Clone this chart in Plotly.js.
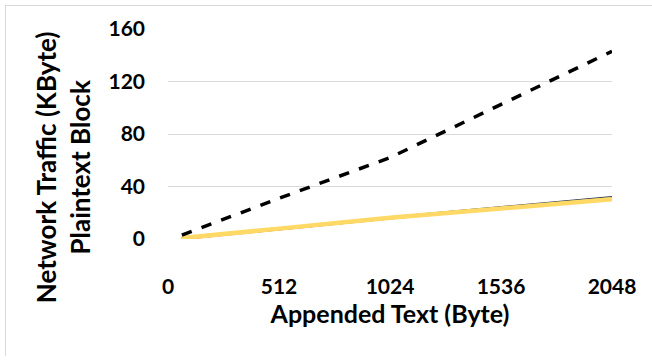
<!DOCTYPE html>
<html>
<head>
<meta charset="utf-8">
<script src="https://cdn.plot.ly/plotly-3.0.1.min.js"></script>
<style>
html,body{margin:0;padding:0;background:#fff;}
#wrap{position:relative;width:652px;height:364px;}
#frame{position:absolute;left:5px;top:5px;width:660px;height:350px;border-top:1px solid #d9d9d9;border-left:1px solid #d9d9d9;pointer-events:none;}
#chart{position:absolute;left:0;top:0;width:652px;height:364px;}
</style>
</head>
<body>
<div id="wrap"><div id="chart"></div><div id="frame"></div></div>
<script>
// Appended text sizes (Byte)
const textSizes = [64, 128, 256, 512, 1024, 2048];
// Network traffic (KByte)
const seriesDashed = [3, 7, 15, 31, 62, 143];
const seriesNavy   = [0.9, 2.0, 4.0, 8.1, 16.4, 31.9];
const seriesRed    = [0.1, 1.2, 3.3, 7.5, 15.8, 30.8];
const seriesGreen  = [0.5, 1.6, 3.6, 7.7, 16.0, 31.0];
const seriesYellow = [0.7, 1.8, 3.8, 7.9, 16.2, 30.2];
const xTicks = [0, 512, 1024, 1536, 2048];
const yTicks = [0, 40, 80, 120, 160];
const xTitle = "Appended Text (Byte)";
const yTitle = "Network Traffic (KByte)<br>Plaintext Block";

const FONT = "Lato, 'Open Sans', sans-serif";
const traces = [
  {x: textSizes, y: seriesNavy, mode: 'lines', line: {color: '#2F3A5A', width: 2.5}},
  {x: textSizes, y: seriesRed, mode: 'lines', line: {color: '#E8202A', width: 2.5}},
  {x: textSizes, y: seriesGreen, mode: 'lines', line: {color: '#8FAF6A', width: 2.5}},
  {x: textSizes, y: seriesYellow, mode: 'lines', line: {color: '#FFD966', width: 4.5}},
  {x: textSizes, y: seriesDashed, mode: 'lines', line: {color: '#000000', width: 3.5, dash: 'dash'}}
];

const layout = {
  width: 652, height: 364,
  margin: {l: 168, r: 40, t: 29, b: 125},
  paper_bgcolor: '#ffffff', plot_bgcolor: '#ffffff',
  showlegend: false,
  font: {family: FONT, color: '#000000', size: 20, weight: 'bold'},
  xaxis: {
    range: [0, 2048], tickvals: xTicks, ticktext: xTicks.map(String),
    showgrid: false, zeroline: false, showline: false, ticks: '',
    ticklabelstandoff: 33,
    tickfont: {family: FONT, size: 21, weight: 'bold', color: '#000'},
    title: {text: xTitle, font: {family: FONT, size: 25, weight: 'bold', color: '#000'}, standoff: 6}
  },
  yaxis: {
    range: [0, 160], tickvals: yTicks, ticktext: yTicks.map(String),
    showgrid: true, gridcolor: '#d9d9d9', gridwidth: 1,
    zeroline: false, showline: false, ticks: '',
    ticklabelstandoff: 22,
    tickfont: {family: FONT, size: 21, weight: 'bold', color: '#000'}
  },
  annotations: [{
    text: yTitle, textangle: -90, showarrow: false,
    xref: 'paper', yref: 'paper', x: -0.236, y: 0.343,
    xanchor: 'center', yanchor: 'middle', align: 'center',
    font: {family: FONT, size: 26, weight: 'bold', color: '#000'}
  }]
};

Plotly.newPlot('chart', traces, layout, {displayModeBar: false, staticPlot: true});
</script>
</body>
</html>
